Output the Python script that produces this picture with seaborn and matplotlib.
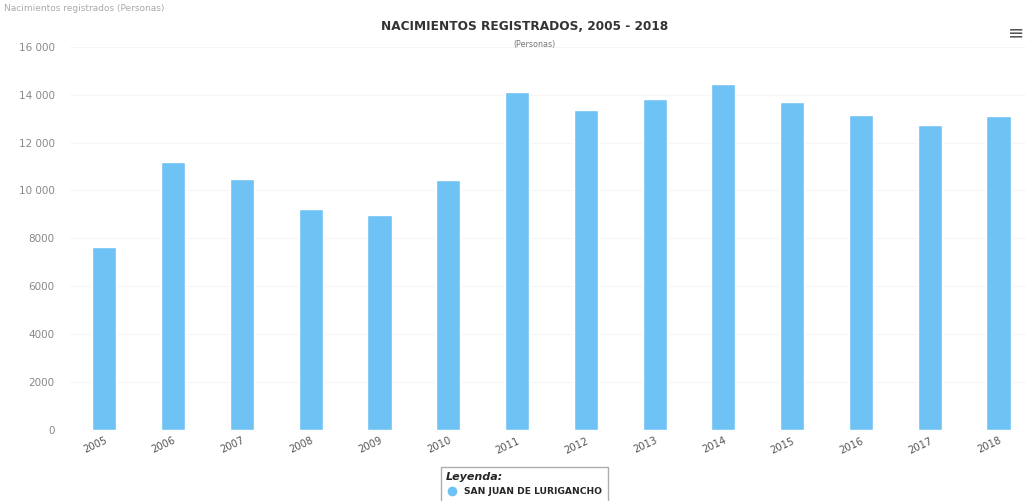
import pandas as pd
import seaborn as sns
import matplotlib.pyplot as plt
from matplotlib.lines import Line2D
from matplotlib.ticker import FuncFormatter

years = ["2005", "2006", "2007", "2008", "2009", "2010", "2011",
         "2012", "2013", "2014", "2015", "2016", "2017", "2018"]
births = [7650, 11200, 10480, 9230, 8980, 10440, 14120,
          13370, 13810, 14440, 13700, 13130, 12750, 13090]
series_name = "SAN JUAN DE LURIGANCHO"

df = pd.DataFrame({"Año": years, "Nacimientos": births})

sns.set_style("white")
plt.rcParams['font.family'] = ['DejaVu Sans']

bar_color = "#6fc2f4"

fig = plt.figure(figsize=(10.26, 5.01), dpi=100)
ax = fig.add_axes([70 / 1026, 0.1417, 956 / 1026, 0.765])

sns.barplot(data=df, x="Año", y="Nacimientos", color=bar_color,
            width=0.35, saturation=1, ax=ax)

ax.set_ylim(0, 16000)
ax.set_xlim(-0.5, 13.4)
ax.set_yticks(range(0, 16001, 2000))


def fmt(v, pos):
    v = int(v)
    if v >= 10000:
        return f"{v:,}".replace(",", " ")
    return str(v)


ax.yaxis.set_major_formatter(FuncFormatter(fmt))
ax.grid(axis="y", color="#f6f6f6", linewidth=0.8)
ax.set_axisbelow(True)
for s in ax.spines.values():
    s.set_visible(False)
ax.set_xlabel("")
ax.set_ylabel("")
ax.tick_params(axis="y", labelsize=7.5, colors="#888888", length=0, pad=11)
ax.tick_params(axis="x", labelsize=7.2, colors="#555555", length=0, pad=4)
plt.setp(ax.get_xticklabels(), rotation=25, ha="right", rotation_mode="anchor")

# titles
fig.text(0.511, 0.948, "NACIMIENTOS REGISTRADOS, 2005 - 2018", ha="center",
         va="center", fontsize=8.7, fontweight="bold", color="#333333")
fig.text(0.521, 0.912, "(Personas)", ha="center", va="center",
         fontsize=5.8, color="#777777")
fig.text(0.004, 0.984, "Nacimientos registrados (Personas)", ha="left",
         va="center", fontsize=6.5, color="#aaaaaa")
fig.text(0.990, 0.935, "\u2261", ha="center", va="center", fontsize=14,
         color="#555555")

# legend
handle = Line2D([0], [0], marker="o", linestyle="", markersize=6,
                markerfacecolor=bar_color, markeredgecolor=bar_color)
leg = fig.legend([handle], [series_name], title="Leyenda:",
                 loc="upper center", bbox_to_anchor=(0.511, 0.068),
                 frameon=True, fancybox=False, edgecolor="#999999",
                 prop={"size": 6.6, "weight": "bold"},
                 title_fontproperties={"size": 8, "weight": "bold",
                                       "style": "italic"},
                 borderpad=0.6, handletextpad=0.8, handlelength=1.2,
                 borderaxespad=0)
leg._legend_box.align = "left"

fig.savefig("out.png", dpi=100)
